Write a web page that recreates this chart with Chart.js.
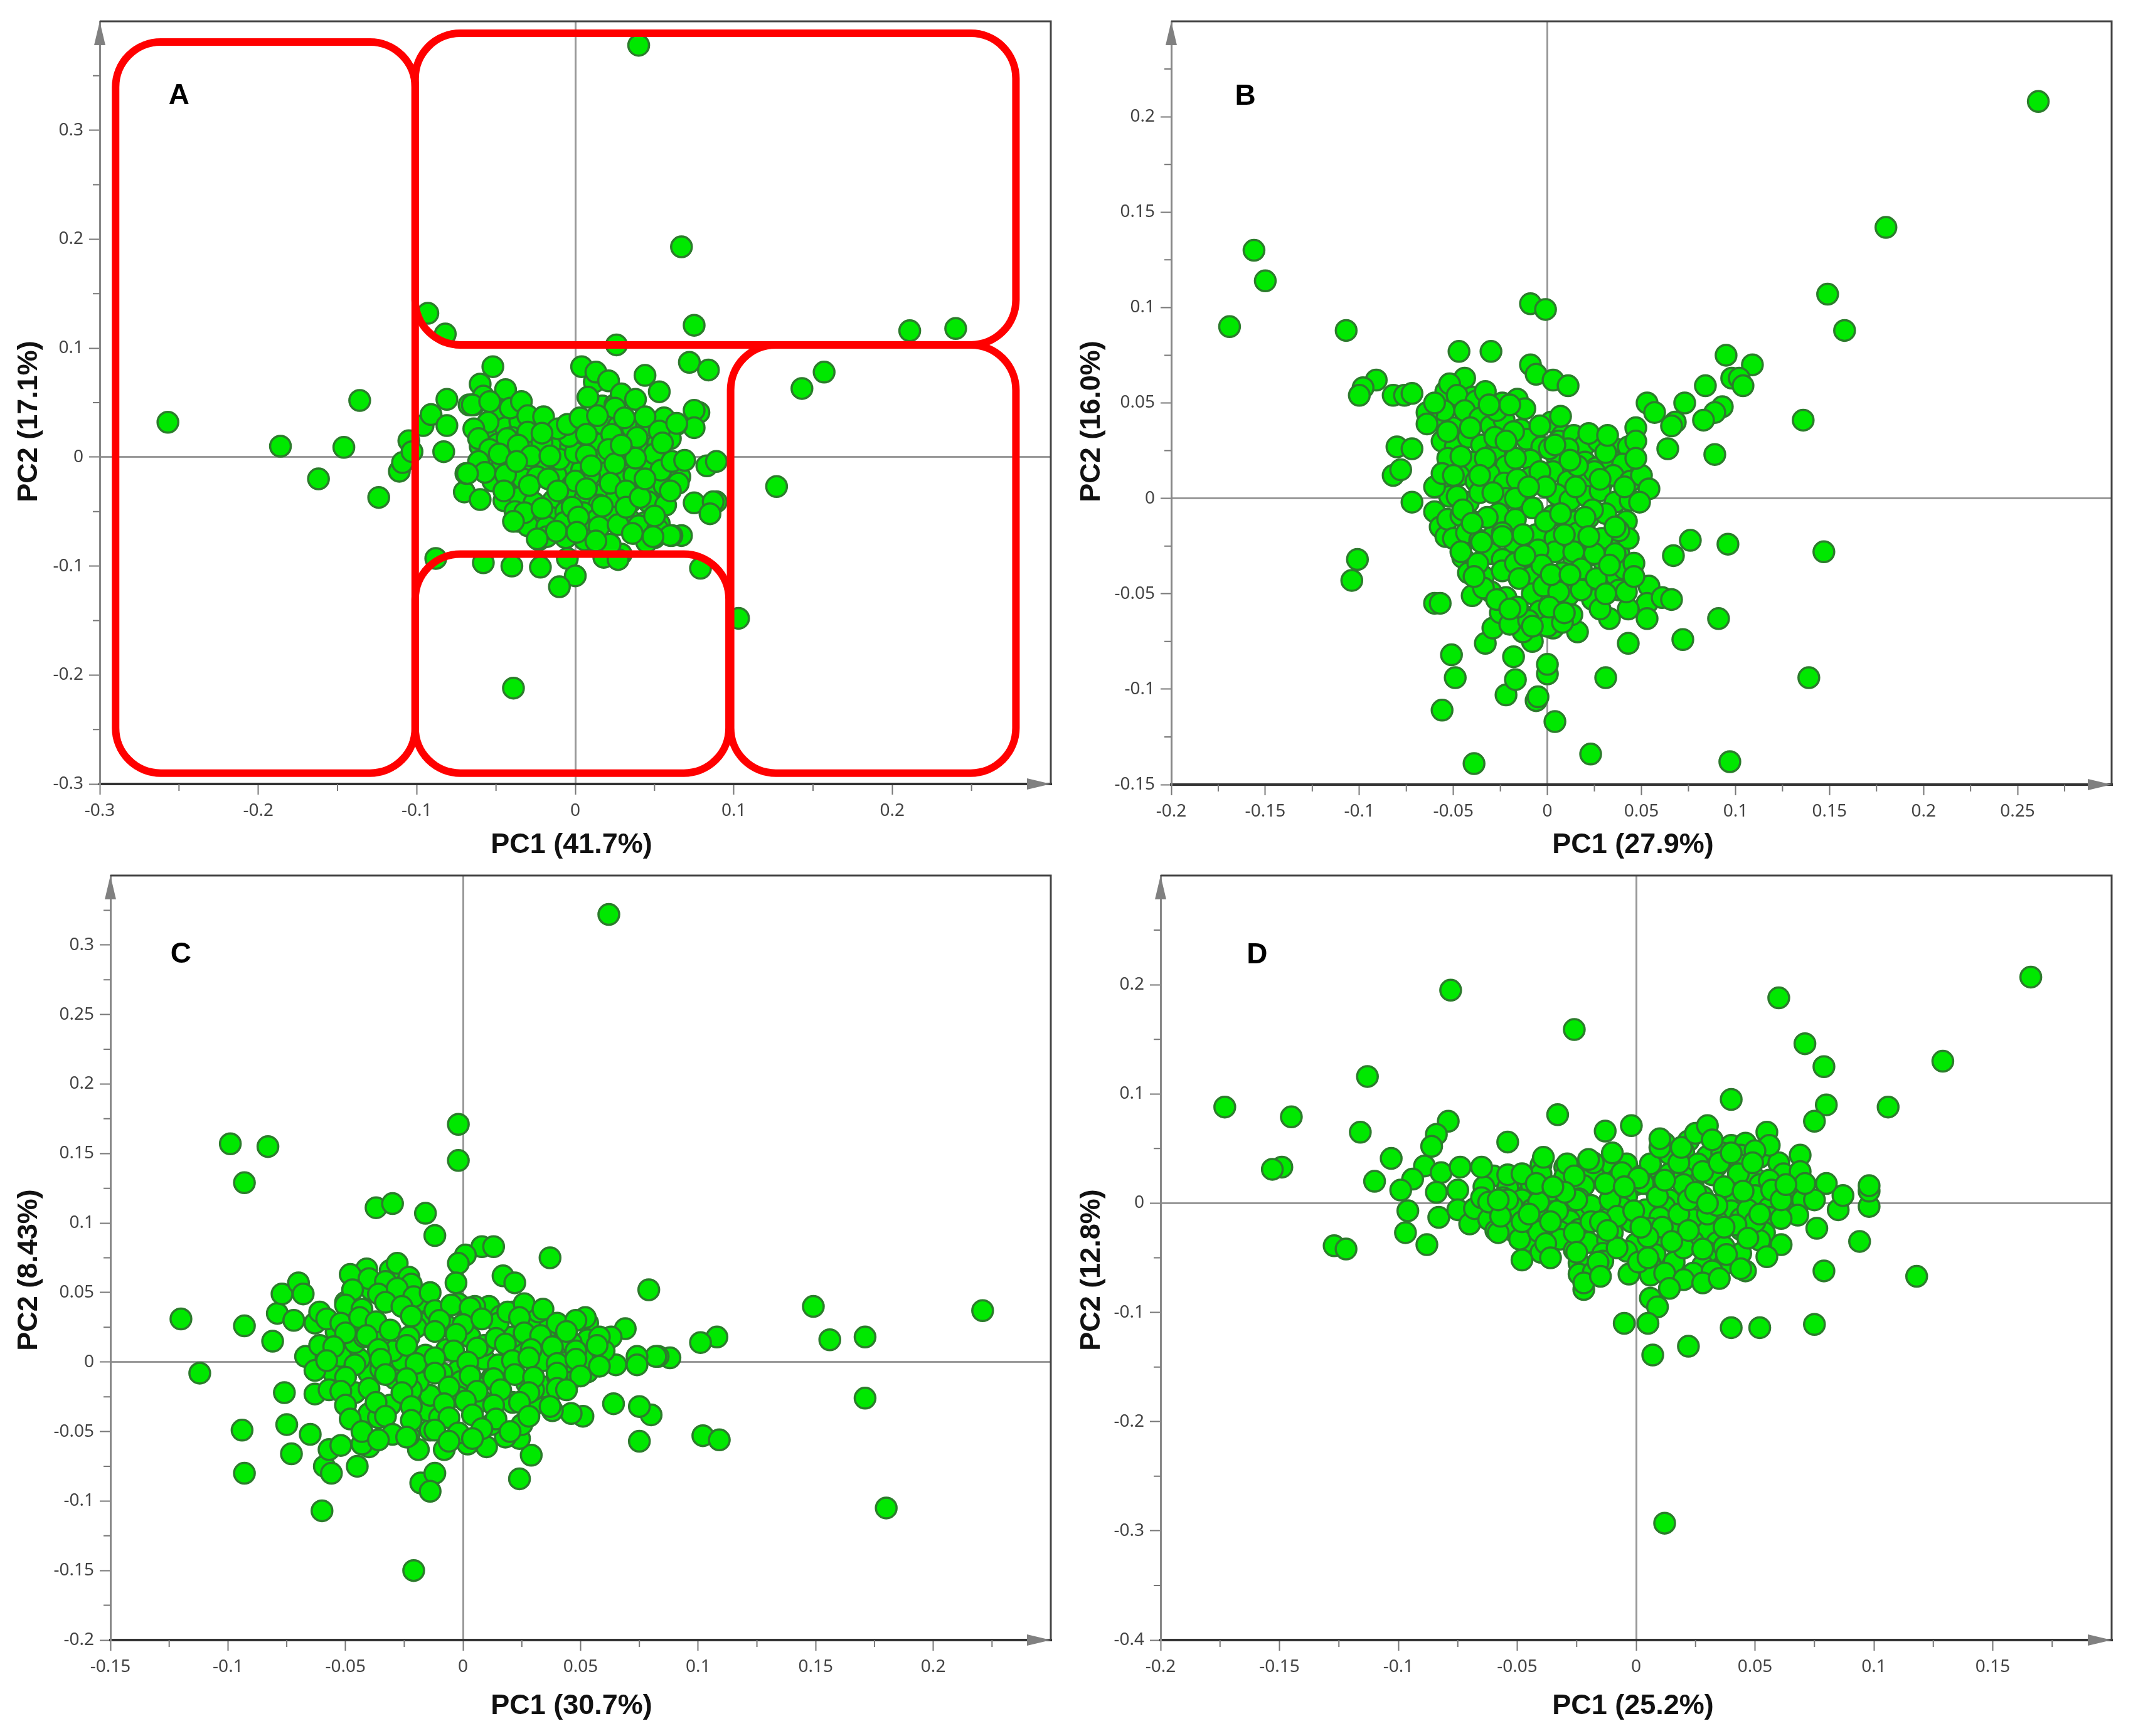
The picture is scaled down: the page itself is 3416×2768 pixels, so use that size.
<!DOCTYPE html>
<html>
<head>
<meta charset="utf-8">
<style>
  html, body { margin: 0; padding: 0; background: #fff; }
  canvas { position: absolute; }
</style>
<script src="https://cdn.jsdelivr.net/npm/chart.js@4"></script>
</head>
<body>
<canvas id="panelA" style="left:0;top:0"></canvas>
<canvas id="panelB" style="left:1708px;top:0"></canvas>
<canvas id="panelC" style="left:0;top:1344px"></canvas>
<canvas id="panelD" style="left:1708px;top:1344px"></canvas>
<script>
// scores, one pc1/pc2 pair of arrays per panel
const pc1A = [-.257,-.186,-.146,-.136,-.162,-.124,-.111,-.109,-.105,-.103,-.096,-.091,-.081,-.081,-.083,-.052,-.060,-.067,-.064,-.044,-.040,
  -.088,-.058,-.040,-.022,-.005,0,-.010,.018,.029,.027,.079,.004,.044,.053,.072,.084,.078,.075,.075,.064,.054,.083,.089,.075,.089,.087,.085,.067,.061,.050,.037,.012,-.023,-.010,-.036,-.070,-.060,-.069,
  -.058,-.047,-.038,-.030,-.022,
  -.052,-.044,-.035,-.026,-.016,-.008,.002,.010,.018,.027,.036,.045,.056,
  -.060,-.049,-.040,-.031,-.023,-.013,-.003,.006,.016,.024,.034,.043,.052,.060,
  -.056,-.046,-.037,-.027,-.018,-.007,.004,.013,.020,.030,.041,.048,.058,.066,
  -.052,-.041,-.033,-.024,-.012,-.002,.009,.019,.028,.037,.047,.056,.065,
  -.045,-.035,-.026,-.014,-.005,.006,.015,.026,.035,.046,.057,
  -.038,-.027,-.016,-.006,.005,.014,.024,.034,.044,.053,
  -.030,-.018,-.007,.004,.015,.027,.040,.052,
  -.018,-.006,.006,.022,.045,.017,.025,
  -.044,-.065,-.041,-.034,-.054,-.030,-.020,-.055,-.064,-.061,-.043,-.030,-.021,-.036,-.054,-.028,-.061,-.048,-.057,-.068,-.044,-.029,-.045,-.017,-.010,0,.007,-.004,-.011,-.005,.003,.012,.013,.021,.008,.029,.038,.025,.014,.044,.023,.039,.053,.021,.050,.025,.054,0,.022,.007,.032,.060,-.002,.017,.032,.050,-.032,-.039,-.012,.002,.001,-.024,.013,.036,.060,.049,.041,.044,.061,.069,.055,.064,.038,-.011,-.021,.010,-.016,-.037,.029,.007,-.021,.031,
  .040,.067,-.093,-.082,.075,.026,.211,.240,.157,.143,.127,.103,-.039];
const pc2A = [.032,.010,.009,.052,-.020,-.037,-.013,-.005,.015,.005,.029,.039,.053,.029,.005,.083,.067,.048,.048,.060,.044,
  -.093,-.097,-.100,-.101,-.093,-.109,-.119,-.092,-.089,-.094,-.102,.083,.075,.060,.087,.080,.041,.043,.027,.030,.024,-.008,-.004,-.042,-.041,-.041,-.052,-.072,-.072,-.074,-.070,-.079,-.076,-.069,-.059,-.032,-.039,-.015,
  .056,.040,.041,.030,.031,
  .020,.027,.033,.016,.011,.020,.013,.014,.030,.028,.027,.029,.036,
  .010,.012,.018,.008,.003,.008,.010,.010,.012,.005,.010,.006,.012,.017,
  -.005,-.008,-.014,-.009,-.010,-.009,-.012,-.003,-.014,-.016,-.012,-.006,-.015,-.018,
  -.022,-.024,-.020,-.018,-.017,-.026,-.017,-.032,-.022,-.017,-.030,-.026,-.024,
  -.040,-.037,-.042,-.040,-.036,-.038,-.044,-.037,-.041,-.041,-.044,
  -.050,-.053,-.055,-.050,-.051,-.057,-.055,-.057,-.060,-.061,
  -.063,-.064,-.060,-.063,-.064,-.062,-.063,-.066,
  -.073,-.074,-.076,-.080,-.078,.047,.048,
  .062,.048,.045,.051,.051,.038,.037,.032,.026,.017,.017,.023,.013,.011,.007,.001,-.004,.003,-.014,-.015,-.016,-.026,-.031,-.020,-.002,.004,.002,.019,.026,.030,.036,.069,.078,.070,.055,.058,.053,.045,.038,.037,.021,.018,.024,.007,.003,-.006,-.012,-.022,-.024,-.029,-.031,-.031,-.046,-.045,-.046,-.054,-.051,-.059,-.068,-.055,-.069,-.075,-.077,-.070,-.072,-.073,-.037,-.020,-.004,-.003,.013,.031,-.001,-.031,-.047,-.008,.001,-.004,.011,.021,.022,.036,
  .378,.193,.132,.113,.121,.103,.116,.118,.078,.063,-.027,-.148,-.212];

const pc1B = [.261,.180,.149,.158,-.156,-.150,-.169,-.107,-.009,-.001,-.047,-.030,-.009,-.006,.003,.011,-.044,-.091,-.098,-.100,-.082,-.076,-.072,-.054,-.052,-.040,
  .095,.109,.098,.102,.104,.084,.073,.093,.089,.083,.053,.057,.068,.066,.064,.089,.136,-.080,-.072,-.082,-.078,-.072,-.060,-.057,-.054,-.101,-.104,-.060,-.057,.076,.067,.096,.147,.091,.072,.043,.033,.139,.031,.023,.097,-.039,.004,-.006,-.005,-.022,-.017,0,0,-.018,-.049,-.051,-.056,-.033,-.029,-.008,-.013,.016,.003,
  -.048,-.038,-.033,-.024,-.016,-.012,
  -.058,-.050,-.044,-.036,-.030,-.023,-.014,-.008,.002,.008,
  -.056,-.049,-.042,-.035,-.022,-.011,-.003,.006,.014,.020,.027,.036,.043,
  -.053,-.040,-.028,-.022,-.009,.005,.020,.026,.034,.040,
  -.055,-.047,-.038,-.031,-.023,-.009,.003,.011,.020,.029,.035,.044,.050,
  -.052,-.042,-.036,-.022,-.012,.005,.012,.021,.028,.036,.044,
  -.053,-.046,-.040,-.026,-.017,.003,.015,.022,.031,.042,
  -.050,-.043,-.036,-.029,-.018,-.006,.004,.016,.024,.035,
  -.045,-.030,-.024,-.010,.004,.014,.022,.030,.038,
  -.042,-.034,-.024,-.008,.008,.014,.036,.041,
  -.040,-.030,-.022,-.008,.011,.024,.038,
  -.025,-.012,-.004,.013,.028,
  -.020,-.010,.000,.008,
  .054,.053,.053,.061,.066,.043,.042,.046,.043,.038,.054,.049,.047,.047,.047,.031,.022,.032,.041,.025,.015,.007,-.004,-.018,-.027,-.020,-.031,-.041,-.055,-.064,-.064,-.060,-.053,-.046,-.033,-.028,-.017,.001,.011,.016,-.004,-.016,-.029,-.048,-.060,-.056,-.001,-.017,-.032,-.024,-.008,-.001,.007,.024,.029,.014,-.005,-.017,-.037,-.046,.018,-.003,-.015,-.034,-.027,-.016,-.002,.006,.018,.026,.031,.046,.001,.009,-.008,-.020,-.039,.025,.036,.009,-.013,-.035,-.050,-.045,-.036,-.022,-.010,.004,.012,.020,.028,.036,-.040,-.024,-.012,.002,.012,.022,.033];
const pc2B = [.208,.142,.107,.088,.130,.114,.090,.088,.102,.099,.077,.077,.070,.065,.062,.059,.063,.062,.058,.054,.054,.054,.055,.056,.060,.053,
  .075,.070,.063,.063,.059,.059,.050,.048,.045,.041,.050,.045,.040,.038,.026,.023,.041,.027,.026,.012,.015,-.002,-.007,-.015,-.020,-.032,-.043,-.055,-.055,-.022,-.030,-.024,-.028,-.063,-.074,-.076,-.063,-.094,-.094,-.134,-.138,-.139,-.117,-.106,-.104,-.103,-.095,-.092,-.087,-.083,-.094,-.082,-.111,-.076,-.068,-.075,-.070,-.070,-.068,
  .054,.051,.056,.050,.052,.047,
  .041,.037,.046,.042,.038,.041,.036,.030,.040,.033,
  .030,.027,.032,.028,.026,.031,.027,.030,.033,.028,.030,.026,.027,
  .021,.019,.024,.017,.020,.022,.019,.016,.020,.018,
  .010,.012,.009,.013,.008,.011,.014,.009,.011,.008,.012,.009,.012,
  .001,-.002,.003,.000,-.003,.002,-.001,.001,.004,-.002,-.001,
  -.011,-.009,-.012,-.008,-.011,-.009,-.012,-.010,-.008,-.012,
  -.021,-.018,-.022,-.020,-.023,-.019,-.021,-.018,-.022,-.020,
  -.031,-.029,-.032,-.030,-.028,-.032,-.030,-.033,-.029,
  -.039,-.041,-.038,-.041,-.039,-.042,-.040,-.037,
  -.051,-.049,-.052,-.050,-.051,-.053,-.048,
  -.060,-.062,-.059,-.061,-.058,
  -.066,-.064,-.067,-.065,
  -.046,-.055,-.063,-.052,-.053,-.058,-.049,-.034,-.021,-.017,.005,-.002,.037,.030,.021,.024,.034,.033,.006,.014,.006,.043,.038,.035,.046,.049,.049,.037,.046,.045,.039,.050,.035,.022,.021,.032,.021,.026,.026,.017,.014,.010,.003,.001,.006,.013,.006,0,-.010,-.018,-.005,-.012,-.008,-.006,-.021,-.028,-.027,-.034,-.034,-.028,-.037,-.035,-.042,-.047,-.053,-.057,-.046,-.049,-.048,-.042,-.050,-.041,-.057,-.060,-.067,-.058,-.041,-.029,-.029,-.019,-.019,-.023,.012,-.006,.012,.030,.006,.028,.020,-.010,.010,-.015,-.013,-.020,-.030,-.040,-.040,-.020,-.035,-.045,-.015,-.015,-.010];

const pc1C = [.062,-.002,-.002,-.099,-.083,-.093,-.037,-.030,-.016,-.012,.008,.013,.001,-.002,-.003,.037,.017,.022,.079,.149,.221,.156,.171,.108,.101,.171,.180,.102,.109,.075,.080,.075,.064,.088,.083,.082,.074,.074,.069,.063,.065,.060,
  -.120,-.112,-.093,-.081,-.079,-.077,-.070,-.068,-.072,-.063,-.061,-.067,-.061,-.055,-.063,-.076,-.063,-.057,-.075,-.065,-.073,-.094,-.093,-.060,-.059,-.056,-.057,-.052,-.045,-.040,-.043,-.019,-.008,-.018,-.012,-.014,-.021,.024,.029,.024,.018,.010,.002,.051,.046,.038,.030,.012,-.014,-.023,-.031,-.040,-.046,-.015,-.014,.008,.021,.027,.034,.046,.053,.051,.034,.044,.025,.017,.009,-.002,-.009,-.019,-.029,-.040,-.044,-.052,-.026,-.016,-.030,-.007,.003,.009,.021,.037,.031,.037,.032,.053,.052,.053,.046,.011,.021,.016,-.002,-.007,-.019,-.018,-.029,-.025,-.031,-.028,-.023,-.041,-.048,-.039,-.050,-.042,-.049,-.035,-.046,-.001,.012,-.002,
  .005,-.036,-.010,.025,.040,-.020,-.033,.015,.028,-.042,-.054,.030,.006,-.022,-.035,
  -.040,-.033,-.022,
  -.047,-.036,-.028,-.021,-.014,
  -.050,-.043,-.033,-.026,-.012,-.005,.003,.019,.026,.034,
  -.058,-.052,-.044,-.037,-.022,-.010,.000,.008,.024,.040,.048,
  -.050,-.041,-.031,-.023,-.012,-.003,.014,.026,.033,.044,.058,
  -.055,-.036,-.024,-.004,.006,.018,.029,.038,.048,.057,
  -.058,-.046,-.035,-.020,-.012,.002,.015,.021,.028,.040,.048,.058,
  -.050,-.033,-.024,-.012,.003,.013,.022,.030,.040,.050,
  -.052,-.040,-.026,-.006,.006,.016,.028,.040,.044,
  -.050,-.037,-.022,-.008,.001,.013,.024,.037,
  -.048,-.033,-.022,-.006,.004,.014,.028,
  -.043,-.030,-.012,-.002,.008,.020,
  -.036,-.024,-.006,.004];
const pc2C = [.322,.171,.145,.157,.155,.129,.111,.114,.107,.091,.083,.083,.077,.071,.057,.075,.062,.057,.052,.040,.037,.016,.018,.018,.014,-.026,-.105,-.053,-.056,-.057,-.038,-.032,-.030,.003,.004,.004,.004,-.002,.024,.018,-.002,.008,
  .031,-.008,.026,.015,.035,.049,.057,.049,.030,.028,.036,.004,.012,-.008,-.006,-.022,-.023,-.020,-.045,-.052,-.066,-.049,-.080,-.107,-.075,-.080,-.063,-.060,-.075,-.061,-.059,-.063,-.063,-.087,-.080,-.093,-.150,-.084,-.067,-.055,-.054,-.061,-.059,-.039,-.037,-.035,-.031,-.045,-.049,-.053,-.031,-.037,-.022,-.035,-.024,-.028,-.029,-.015,-.018,-.012,-.007,.002,.001,0,.006,-.006,.002,-.006,-.008,-.014,-.012,-.008,.002,.004,.001,.005,.008,.009,.018,.012,.018,.016,.028,.026,.036,.028,.032,.016,.014,.040,.036,.033,.042,.026,.043,.028,.048,.052,.066,.071,.061,.067,.063,.052,.043,.032,.025,.019,.014,-.014,-.012,-.025,
  .040,-.040,-.040,-.045,-.010,.025,.045,.028,.018,.018,.022,-.020,-.018,-.020,-.005,
  .060,.058,.056,
  .052,.049,.053,.047,.050,
  .041,.038,.043,.040,.037,.041,.039,.036,.042,.038,
  .031,.028,.032,.029,.033,.030,.027,.031,.032,.028,.030,
  .021,.019,.023,.018,.022,.020,.017,.021,.019,.022,.018,
  .011,.009,.012,.008,.010,.013,.009,.011,.008,.012,
  .001,-.002,.002,-.001,.003,.000,-.002,.001,.003,-.001,.002,-.003,
  -.011,-.009,-.012,-.008,-.010,-.012,-.009,-.011,-.008,-.010,
  -.021,-.019,-.022,-.018,-.021,-.020,-.022,-.019,-.020,
  -.031,-.029,-.032,-.030,-.028,-.031,-.029,-.032,
  -.041,-.039,-.042,-.040,-.038,-.041,-.039,
  -.050,-.052,-.049,-.051,-.048,-.050,
  -.056,-.054,-.057,-.055];

const pc1D = [.166,.060,-.078,-.026,.071,.079,.129,-.113,-.173,-.145,-.149,-.153,.040,-.033,.080,.106,.075,-.013,-.002,-.116,-.079,-.084,-.086,-.054,-.103,-.089,-.110,-.094,-.099,-.082,-.074,-.084,-.075,-.096,-.083,-.075,-.097,-.088,-.127,-.122,-.070,
  .012,.022,.040,.046,
  .014,.020,.030,.036,.044,.052,
  -.040,-.030,-.020,-.010,-.004,.006,.026,.034,.044,.060,
  -.060,-.050,-.040,-.030,-.018,-.008,.002,.014,.020,.032,.050,.062,
  -.064,-.054,-.044,-.034,-.022,-.010,.000,.008,.024,.040,.052,.066,
  -.056,-.048,-.033,-.024,-.004,.014,.028,.042,.050,.060,.070,
  -.068,-.052,-.044,-.030,-.021,-.006,.004,.012,.024,.040,.056,.062,
  -.062,-.040,-.028,-.012,-.002,.010,.024,.034,.044,.056,
  -.052,-.044,-.032,-.024,-.010,.006,.015,.030,.044,.054,
  -.046,-.032,-.020,-.012,.000,.012,.024,.034,.052,
  -.040,-.026,-.014,-.004,.008,.018,.030,.044,
  -.024,-.014,.006,.016,.028,.038,
  -.024,-.018,.006,.024,.032,
  -.065,-.065,-.062,-.059,-.058,-.048,-.049,-.054,-.048,-.054,-.039,-.036,-.041,-.041,-.038,-.036,-.029,-.026,-.033,-.026,-.025,-.022,-.022,-.016,-.015,-.019,-.018,-.010,-.006,-.011,-.008,-.019,-.008,-.003,.001,-.001,.003,.006,.010,.010,.009,.018,.019,.020,.028,.025,.030,.032,.035,.040,.043,.037,.018,.030,.011,.005,.020,.028,.037,.012,.020,.028,.035,.046,.014,.006,.009,-.005,.005,.007,.022,.040,.052,.075,.012,.118,.079,.094,.061,.055,.076,.068,.061,.085,.087,.098,.098,.098,.080,.075,.069,.069,.071,.055,.056,.050,.049,.056,.057,.047,.050,.042,.047,.061,.063,.045,.034,.022,.037,-.048,-.057,-.058,-.042,-.036,-.025,-.015,-.013,.002,.022,.038,.052,.001,.012,
  -.030,-.045,-.020,-.005,.015,.025,-.035,-.012,.005,.030,.044];
const pc2D = [.207,.188,.195,.159,.146,.125,.130,.116,.088,.079,.033,.031,.095,.081,.090,.088,.075,.066,.071,.065,.075,.063,.052,.056,.041,.034,.020,.022,.012,.028,.033,.010,.012,-.007,-.013,-.006,-.027,-.038,-.039,-.042,-.019,
  .055,.057,.053,.055,
  .045,.047,.043,.046,.044,.042,
  .035,.033,.037,.034,.036,.033,.036,.034,.035,.037,
  .025,.023,.027,.024,.026,.022,.025,.027,.024,.026,.023,.027,
  .015,.014,.017,.013,.016,.014,.017,.013,.016,.014,.017,.015,
  .005,.003,.007,.004,.006,.003,.006,.004,.007,.005,.003,
  -.005,-.003,-.006,-.004,-.007,-.004,-.006,-.003,-.005,-.007,-.004,-.006,
  -.015,-.013,-.016,-.014,-.017,-.013,-.015,-.016,-.014,-.013,
  -.025,-.023,-.026,-.024,-.027,-.023,-.025,-.026,-.024,-.027,
  -.035,-.033,-.036,-.034,-.037,-.033,-.035,-.036,-.034,
  -.045,-.043,-.046,-.044,-.047,-.043,-.045,-.046,
  -.055,-.053,-.056,-.054,-.057,-.055,
  -.065,-.063,-.066,-.064,-.062,
  .033,.005,.001,-.025,-.027,-.052,-.033,.026,.027,.003,.042,.011,.001,-.026,-.037,-.050,.036,.025,-.007,-.027,-.045,-.079,-.073,-.054,-.067,-.002,.037,.046,.028,.003,-.012,-.017,-.041,-.065,-.054,-.007,.018,.036,.051,.059,.006,.037,.051,.017,.029,.064,.071,.058,.037,.046,.027,.015,-.010,-.010,-.022,-.031,-.041,-.042,-.040,-.064,-.070,-.073,-.069,-.062,-.078,-.087,-.095,-.110,-.110,-.139,-.131,-.114,-.114,-.111,-.293,-.067,-.062,-.035,-.038,-.049,-.023,-.011,-.014,-.006,.007,-.003,.011,.016,.018,.003,.044,.029,.018,.065,.053,.048,.037,.021,.012,-.006,-.017,-.020,-.032,.003,.017,.011,-.002,.003,-.022,-.017,-.012,.003,.018,-.017,.003,-.017,.018,-.022,-.025,-.047,-.010,.023,.021,
  .010,-.010,.040,.015,-.035,.010,.015,-.025,-.050,.000,-.060];

// tick labels
const xTicksA = [-.3,-.2,-.1,0,.1,.2], yTicksA = [-.3,-.2,-.1,0,.1,.2,.3];
const xTicksB = [-.2,-.15,-.1,-.05,0,.05,.1,.15,.2,.25], yTicksB = [-.15,-.1,-.05,0,.05,.1,.15,.2];
const xTicksC = [-.15,-.1,-.05,0,.05,.1,.15,.2], yTicksC = [-.2,-.15,-.1,-.05,0,.05,.1,.15,.2,.25,.3];
const xTicksD = [-.2,-.15,-.1,-.05,0,.05,.1,.15], yTicksD = [-.4,-.3,-.2,-.1,0,.1,.2];

// the four red frames of panel A, in PC units
const boxLeft = [-.290,-.101,.098,-.101];
const boxRight = [-.101,.278,.278,.097];
const boxTop = [.381,.389,.103,-.089];
const boxBottom = [-.290,.103,-.290,-.290];

const W = 1708;

const decor = {
  id: 'decor',
  afterDatasetsDraw(chart, args, o) {
    const { ctx, chartArea: a, scales: { x, y } } = chart;
    ctx.save();
    // frame top and right
    ctx.strokeStyle = '#444';
    ctx.lineWidth = 3;
    ctx.beginPath();
    ctx.moveTo(a.left, a.top); ctx.lineTo(a.right, a.top); ctx.lineTo(a.right, a.bottom);
    ctx.stroke();
    // minor ticks
    ctx.strokeStyle = '#777';
    ctx.lineWidth = 2;
    ctx.beginPath();
    for (let i = 1; i * o.xMinor < (o.xMax - o.xMin) + 1e-9; i += 2) {
      const px = x.getPixelForValue(o.xMin + i * o.xMinor);
      ctx.moveTo(px, a.bottom); ctx.lineTo(px, a.bottom + 11);
    }
    for (let i = 1; i * o.yMinor < (o.yMax - o.yMin) + 1e-9; i += 2) {
      const py = y.getPixelForValue(o.yMin + i * o.yMinor);
      ctx.moveTo(a.left, py); ctx.lineTo(a.left - 11, py);
    }
    ctx.stroke();
    // axis arrows
    ctx.fillStyle = '#808080';
    ctx.beginPath();
    ctx.moveTo(a.left, a.top); ctx.lineTo(a.left - 9, a.top + 38); ctx.lineTo(a.left + 9, a.top + 38);
    ctx.fill();
    ctx.beginPath();
    ctx.moveTo(a.right, a.bottom); ctx.lineTo(a.right - 38, a.bottom - 9); ctx.lineTo(a.right - 38, a.bottom + 9);
    ctx.fill();
    // red frames
    if (o.boxes) {
      ctx.strokeStyle = '#ff0000';
      ctx.lineWidth = 12;
      boxLeft.forEach((v, i) => {
        const l = x.getPixelForValue(v), r = x.getPixelForValue(boxRight[i]);
        const t = y.getPixelForValue(boxTop[i]), b = y.getPixelForValue(boxBottom[i]);
        ctx.beginPath();
        ctx.roundRect(l, t, r - l, b - t, 72);
        ctx.stroke();
      });
    }
    // panel letter and axis titles
    ctx.fillStyle = '#000';
    ctx.textAlign = 'center';
    ctx.textBaseline = 'middle';
    ctx.font = 'bold 46px "Liberation Sans"';
    ctx.fillText(o.letter, x.getPixelForValue(o.letterAt[0]), y.getPixelForValue(o.letterAt[1]));
    ctx.font = 'bold 45px "Liberation Sans"';
    ctx.fillStyle = '#111';
    ctx.fillText(o.xTitle, o.xTitleAt[0], o.xTitleAt[1]);
    ctx.translate(o.yTitleAt[0], o.yTitleAt[1]);
    ctx.rotate(-Math.PI / 2);
    ctx.fillText(o.yTitle, 0, 0);
    ctx.restore();
  }
};

const tickLabel = v => String(Number(v.toFixed(3)));

function panel(id, xs, ys, plot, xAxis, yAxis, extra) {
  const pts = xs.map((v, i) => ({ x: v, y: ys[i] }));
  const axisBase = (major, range, borderColor, borderWidth) => ({
    type: 'linear',
    min: range[0],
    max: range[1],
    afterBuildTicks: s => { s.ticks = major.map(v => ({ value: v })); },
    border: { color: borderColor, width: borderWidth },
    grid: {
      color: c => (c.tick && c.tick.value === 0 ? '#999' : 'rgba(0,0,0,0)'),
      lineWidth: 3,
      tickColor: '#777',
      tickWidth: 2,
      tickLength: 17,
      drawOnChartArea: true
    },
    ticks: {
      autoSkip: false,
      maxRotation: 0,
      padding: 9,
      color: '#444',
      font: { family: '"Noto Sans"', size: 28 },
      callback: v => tickLabel(v)
    }
  });
  const c = document.getElementById(id);
  c.width = W; c.height = plot.h;
  return new Chart(c, {
    type: 'scatter',
    data: {
      datasets: [{
        data: pts,
        pointRadius: 16.5,
        pointBorderWidth: 3.5,
        backgroundColor: '#00e800',
        borderColor: '#2c7c2c'
      }]
    },
    options: {
      responsive: false,
      animation: false,
      devicePixelRatio: 1,
      layout: { padding: { left: 0, top: plot.top, right: W - plot.right, bottom: 0 } },
      plugins: {
        legend: { display: false },
        tooltip: { enabled: false },
        decor: Object.assign({
          xMin: xAxis.range[0], xMax: xAxis.range[1], yMin: yAxis.range[0], yMax: yAxis.range[1],
          xMinor: xAxis.minor, yMinor: yAxis.minor
        }, extra)
      },
      scales: {
        x: Object.assign(axisBase(xAxis.major, xAxis.range, '#333', 4), {
          afterFit: s => { s.height = plot.h - plot.bottom; }
        }),
        y: Object.assign(axisBase(yAxis.major, yAxis.range, '#888', 3), {
          afterFit: s => { s.width = plot.left; }
        })
      }
    },
    plugins: [decor]
  });
}

panel('panelA', pc1A, pc2A, { left: 159, right: 1675, top: 34, bottom: 1250, h: 1384 },
  { major: xTicksA, range: [-.3, .3], minor: .05 }, { major: yTicksA, range: [-.3, .4], minor: .05 },
  { letter: 'A', letterAt: [-.25, .3315], boxes: true, xTitle: 'PC1 (41.7%)', xTitleAt: [911, 1348], yTitle: 'PC2 (17.1%)', yTitleAt: [47, 672] });
panel('panelB', pc1B, pc2B, { left: 159, right: 1658, top: 34, bottom: 1251, h: 1384 },
  { major: xTicksB, range: [-.2, .3], minor: .025 }, { major: yTicksB, range: [-.15, .25], minor: .025 },
  { letter: 'B', letterAt: [-.1606, .2105], xTitle: 'PC1 (27.9%)', xTitleAt: [895, 1348], yTitle: 'PC2 (16.0%)', yTitleAt: [33, 672] });
panel('panelC', pc1C, pc2C, { left: 176, right: 1675, top: 52, bottom: 1271, h: 1424 },
  { major: xTicksC, range: [-.15, .25], minor: .025 }, { major: yTicksC, range: [-.2, .35], minor: .025 },
  { letter: 'C', letterAt: [-.12, .293], xTitle: 'PC1 (30.7%)', xTitleAt: [911, 1377], yTitle: 'PC2 (8.43%)', yTitleAt: [47, 681] });
panel('panelD', pc1D, pc2D, { left: 142, right: 1658, top: 52, bottom: 1271, h: 1424 },
  { major: xTicksD, range: [-.2, .2], minor: .025 }, { major: yTicksD, range: [-.4, .3], minor: .05 },
  { letter: 'D', letterAt: [-.1594, .227], xTitle: 'PC1 (25.2%)', xTitleAt: [895, 1377], yTitle: 'PC2 (12.8%)', yTitleAt: [33, 681] });
</script>
</body>
</html>
